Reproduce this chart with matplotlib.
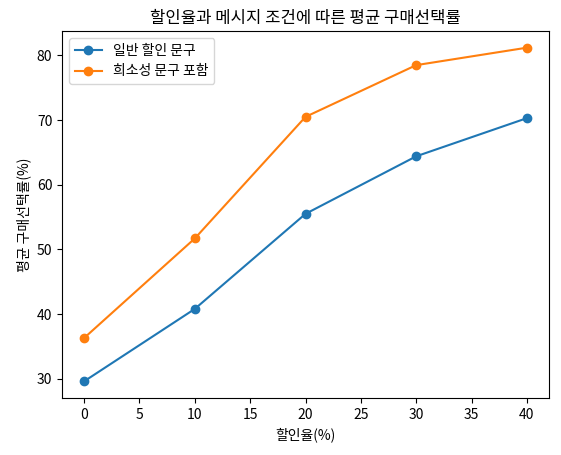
import matplotlib
matplotlib.use('Agg')
import matplotlib.pyplot as plt

plt.rcParams['font.family'] = ['Noto Sans CJK KR', 'DejaVu Sans']

discount = [0, 10, 20, 30, 40]
normal = [29.6, 40.8, 55.5, 64.4, 70.3]
scarcity = [36.3, 51.7, 70.5, 78.5, 81.2]

fig = plt.figure(figsize=(5.61, 4.55), dpi=100)
ax = fig.add_axes([62 / 561, 1 - 398 / 455, (549 - 62) / 561, (398 - 31) / 455])
ax.plot(discount, normal, marker='o', label='일반 할인 문구')
ax.plot(discount, scarcity, marker='o', label='희소성 문구 포함')
ax.set_title('할인율과 메시지 조건에 따른 평균 구매선택률')
ax.set_xlabel('할인율(%)')
ax.set_ylabel('평균 구매선택률(%)')
ax.legend(loc='upper left')

fig.savefig('out.png', dpi=100)
